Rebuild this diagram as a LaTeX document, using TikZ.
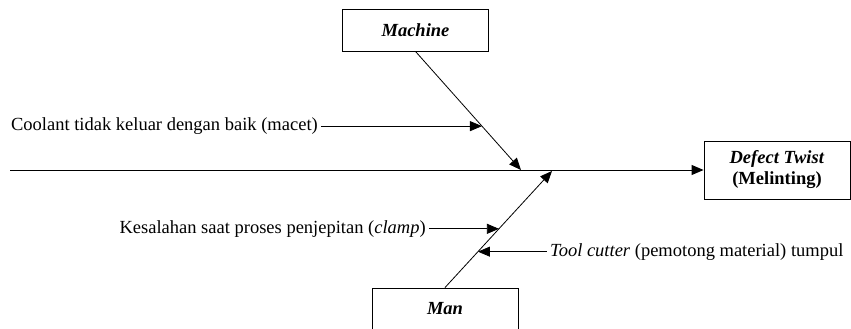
\documentclass[tikz,border=0pt]{standalone}
\usepackage{fontspec}
\setmainfont{Liberation Serif}
\usetikzlibrary{arrows.meta,positioning,calc}
\tikzset{
  box/.style = {rectangle, draw=black, line width=0.9pt, minimum width=146pt,
    minimum height=42pt, align=center, inner sep=0pt,
    font=\fontsize{18.5}{20}\selectfont\bfseries\itshape},% kotak kategori
  effect/.style = {box, minimum height=58pt,
    font=\fontsize{18.5}{21}\selectfont\bfseries},% kotak akibat
  cause/.style = {inner sep=3pt, font=\fontsize{18.5}{20}\selectfont},% teks penyebab
  bone/.style = {-{Triangle[length=12pt,width=10pt]}, line width=0.8pt}% tulang ikan
}

\begin{document}
\begin{tikzpicture}[x=1pt, y=-1pt]
\useasboundingbox (0,0) rectangle (851,329);
\clip (0,0) rectangle (851,329);
% kategori dan akibat
\node [box] (machine) at (415.5,30) {Machine};
\node [box] (man) at (445,309) {Man};
\node [effect] (effect) at (777,170) {\textit{Defect Twist}\\(Melinting)};
% tulang utama
\coordinate (tail) at (10,170);
\coordinate (mtip) at (521,170);
\coordinate (ntip) at (552,171);
\draw [bone, line width=1pt] (tail) -- (effect);
\draw [bone] (machine.south) -- (mtip);
\draw [bone] (man.north) -- (ntip);
% titik pada tulang
\coordinate (mc1) at ($(machine.south)!0.63!(mtip)$);
\coordinate (mn1) at ($(man.north)!0.504!(ntip)$);
\coordinate (mn2) at ($(man.north)!0.308!(ntip)$);
% penyebab
\node [cause, anchor=east] (coolant) at ([xshift=-161pt]mc1)
  {Coolant tidak keluar dengan baik (macet)};
\node [cause, anchor=east] (clamp) at ([xshift=-70pt]mn1)
  {Kesalahan saat proses penjepitan (\textit{clamp})};
\node [cause, anchor=west] (cutter) at ([xshift=69pt]mn2)
  {\textit{Tool cutter} (pemotong material) tumpul};
\draw [bone] (coolant.east) -- (mc1);
\draw [bone] (clamp.east) -- (mn1);
\draw [bone] (cutter.west) -- (mn2);
\end{tikzpicture}
\end{document}
